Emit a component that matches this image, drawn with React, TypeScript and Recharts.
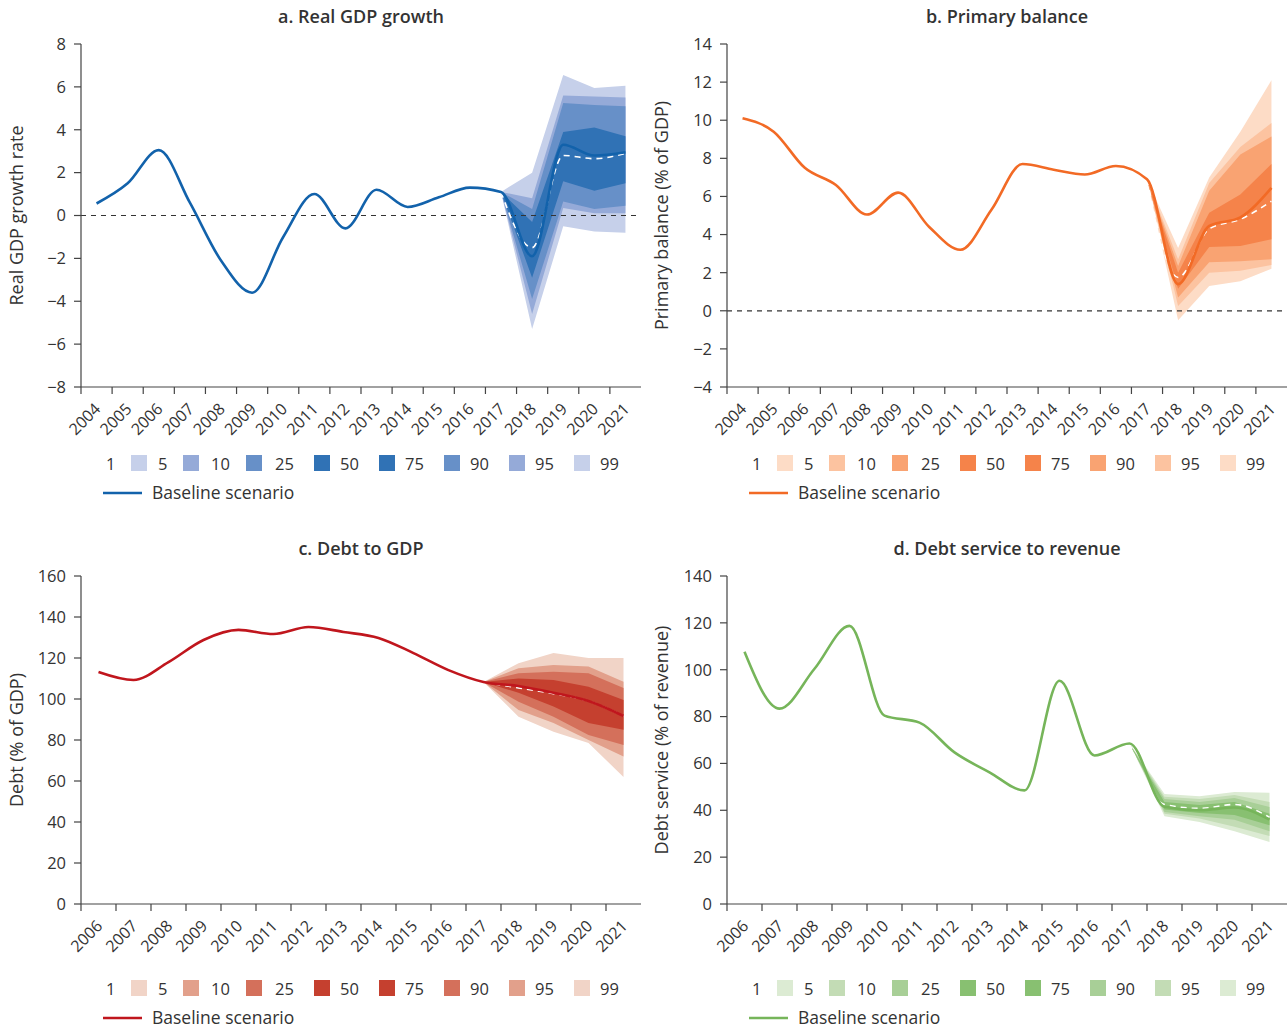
import React from "react";
import {
  ComposedChart,
  Line,
  Area,
  XAxis,
  YAxis,
  ReferenceLine,
} from "recharts";

const FONT = '"Open Sans", "Noto Sans", sans-serif';
const TEXT = "#333";
const AXIS = "#444";

// ---- a. Real GDP growth ----
const gdpYears = [2004, 2005, 2006, 2007, 2008, 2009, 2010, 2011, 2012, 2013, 2014, 2015, 2016, 2017, 2018, 2019, 2020, 2021];
const gdpBaseline = [0.56, 1.5, 3.05, 0.6, -2.1, -3.6, -1.0, 1.0, -0.6, 1.2, 0.4, 0.85, 1.3, 1.1, -1.9, 3.3, 2.8, 2.95];
const gdpFanYears = [2017, 2018, 2019, 2020, 2021];
const gdpP1 = [1.1, -5.3, -0.5, -0.75, -0.8];
const gdpP5 = [1.1, -4.6, 0.35, 0.1, 0.1];
const gdpP10 = [1.1, -3.9, 0.65, 0.3, 0.45];
const gdpP25 = [1.1, -2.9, 1.6, 1.15, 1.5];
const gdpP50 = [1.1, -1.5, 2.8, 2.65, 2.9];
const gdpP75 = [1.1, -0.3, 3.9, 4.1, 3.7];
const gdpP90 = [1.1, 0.3, 5.25, 5.15, 5.1];
const gdpP95 = [1.1, 0.8, 5.6, 5.55, 5.5];
const gdpP99 = [1.1, 2.0, 6.55, 5.95, 6.05];
const gdpTicks = [-8, -6, -4, -2, 0, 2, 4, 6, 8];

// ---- b. Primary balance ----
const pbYears = [2004, 2005, 2006, 2007, 2008, 2009, 2010, 2011, 2012, 2013, 2014, 2015, 2016, 2017, 2018, 2019, 2020, 2021];
const pbBaseline = [10.1, 9.4, 7.5, 6.6, 5.05, 6.2, 4.4, 3.2, 5.3, 7.7, 7.4, 7.15, 7.6, 6.9, 1.4, 4.45, 4.9, 6.45];
const pbFanYears = [2017, 2018, 2019, 2020, 2021];
const pbP1 = [6.9, -0.5, 1.3, 1.55, 2.2];
const pbP5 = [6.9, 0.25, 2.0, 2.1, 2.4];
const pbP10 = [6.9, 0.7, 2.55, 2.6, 2.7];
const pbP25 = [6.9, 1.15, 3.35, 3.4, 3.75];
const pbP50 = [6.9, 1.75, 4.3, 4.8, 5.75];
const pbP75 = [6.9, 2.0, 5.15, 6.1, 7.7];
const pbP90 = [6.9, 2.35, 6.3, 8.2, 9.15];
const pbP95 = [6.9, 2.7, 6.7, 8.6, 9.85];
const pbP99 = [6.9, 3.3, 7.0, 9.4, 12.1];
const pbTicks = [-4, -2, 0, 2, 4, 6, 8, 10, 12, 14];

// ---- c. Debt to GDP ----
const debtYears = [2006, 2007, 2008, 2009, 2010, 2011, 2012, 2013, 2014, 2015, 2016, 2017, 2018, 2019, 2020, 2021];
const debtBaseline = [113.2, 109.3, 118, 128.8, 133.7, 131.7, 135.1, 132.7, 129.8, 122.4, 114.1, 108.3, 106.3, 103, 99, 91.7];
const debtFanYears = [2017, 2018, 2019, 2020, 2021];
const debtP1 = [108.3, 91.4, 84, 78.5, 62];
const debtP5 = [108.3, 94.6, 88.3, 80, 72];
const debtP10 = [108.3, 98.7, 91.4, 82.4, 77.6];
const debtP25 = [108.3, 103, 96.3, 88.3, 85];
const debtP50 = [108.3, 105.4, 102.6, 99, 91.7];
const debtP75 = [108.3, 110, 109.3, 106, 99.5];
const debtP90 = [108.3, 112.6, 113.3, 112.6, 105.4];
const debtP95 = [108.3, 115, 116.6, 115.8, 108.4];
const debtP99 = [108.3, 117.5, 122.4, 120, 120];
const debtTicks = [0, 20, 40, 60, 80, 100, 120, 140, 160];

// ---- d. Debt service to revenue ----
const dsYears = [2006, 2007, 2008, 2009, 2010, 2011, 2012, 2013, 2014, 2015, 2016, 2017, 2018, 2019, 2020, 2021];
const dsBaseline = [107.7, 83.4, 100.4, 118.7, 80.4, 77.4, 64.7, 56.2, 48.5, 95.3, 63.4, 68.5, 41.5, 40, 41.2, 36];
const dsFanYears = [2017, 2018, 2019, 2020, 2021];
const dsP1 = [68.5, 37.5, 35, 31, 26.5];
const dsP5 = [68.5, 38.5, 36.5, 33, 29];
const dsP10 = [68.5, 39.3, 37.5, 36, 31];
const dsP25 = [68.5, 40.3, 38.8, 38, 33.6];
const dsP50 = [68.5, 42.5, 40.8, 42.5, 37];
const dsP75 = [68.5, 43.5, 42.3, 43.5, 38.5];
const dsP90 = [68.5, 44.8, 43.5, 45.2, 41.4];
const dsP95 = [68.5, 45.8, 44.8, 46.5, 43.5];
const dsP99 = [68.5, 47, 46, 47.8, 47.5];
const dsTicks = [0, 20, 40, 60, 80, 100, 120, 140];

const legendLabels = ["1", "5", "10", "25", "50", "75", "90", "95", "99"];

type Palette = { line: string; c1: string; c2: string; c3: string; c4: string };
const blue: Palette = { line: "#1262ab", c1: "#c6d0ea", c2: "#95aad8", c3: "#6790c8", c4: "#3072b5" };
const orange: Palette = { line: "#f26a25", c1: "#fddcc6", c2: "#fcc3a0", c3: "#f9a372", c4: "#f5834a" };
const red: Palette = { line: "#c0161d", c1: "#f1d4c7", c2: "#e2a08b", c3: "#d4705b", c4: "#c5402f" };
const green: Palette = { line: "#76b55a", c1: "#dcebd3", c2: "#c3dcb5", c3: "#a8cf97", c4: "#88c071" };

function buildRows(
  years: number[],
  baseline: number[],
  fanYears: number[],
  p: number[][]
) {
  return years.map((year, i) => {
    const j = fanYears.indexOf(year);
    const row: any = { year, base: baseline[i] };
    if (j >= 0) {
      row.r1 = [p[0][j], p[8][j]];
      row.r2 = [p[1][j], p[7][j]];
      row.r3 = [p[2][j], p[6][j]];
      row.r4 = [p[3][j], p[5][j]];
      row.med = p[4][j];
    }
    return row;
  });
}

const minus = (v: number) => (v < 0 ? "\u2212" + Math.abs(v) : String(v));

function YearTick(props: any) {
  const { x, y, payload, step } = props;
  const ax = x + 5;
  const ay = y + 23;
  return (
    <g>
      <line x1={x - step / 2} x2={x - step / 2} y1={y} y2={y + 7} stroke={AXIS} strokeWidth={1.2} />
      <text
        x={ax}
        y={ay}
        transform={`rotate(-45 ${ax} ${ay})`}
        textAnchor="end"
        fill={TEXT}
        fontSize={16}
        fontFamily={FONT}
      >
        {payload.value}
      </text>
    </g>
  );
}

interface PanelProps {
  left: number;
  top: number;
  width: number;
  plotHeight: number;
  rightMargin: number;
  legendGap: number;
  title: string;
  yLabel: string;
  labelOffset: number;
  rows: any[];
  years: number[];
  ticks: number[];
  palette: Palette;
  zeroLine: boolean;
}

function Panel(p: PanelProps) {
  const plotW = p.width - 81 - p.rightMargin;
  const step = plotW / p.years.length;
  const height = 44 + p.plotHeight + 60;
  const first = p.years[0];
  const last = p.years[p.years.length - 1];
  const legendTop = p.top + 44 + p.plotHeight + p.legendGap;
  const textX = [106, 158, 211, 275, 340, 405, 470, 535, 600];
  const squareX = [131, 183, 246, 314, 379, 444, 509, 574];
  const squareCol = [p.palette.c1, p.palette.c2, p.palette.c3, p.palette.c4, p.palette.c4, p.palette.c3, p.palette.c2, p.palette.c1];
  return (
    <>
      <div
        style={{
          position: "absolute",
          left: p.left + 81,
          top: p.top + 4,
          width: plotW,
          textAlign: "center",
          fontFamily: FONT,
          fontWeight: 600,
          fontSize: 18,
          color: TEXT,
          lineHeight: "24px",
        }}
      >
        {p.title}
      </div>
      <div style={{ position: "absolute", left: p.left, top: p.top }}>
        <ComposedChart
          width={p.width}
          height={height}
          data={p.rows}
          margin={{ top: 44, right: p.rightMargin, bottom: 0, left: 0 }}
        >
          <XAxis
            dataKey="year"
            type="number"
            domain={[first - 0.5, last + 0.5]}
            ticks={p.years}
            interval={0}
            height={60}
            tickLine={false}
            tickSize={0}
            tickMargin={0}
            axisLine={{ stroke: AXIS, strokeWidth: 1.2 }}
            tick={<YearTick step={step} />}
          />
          <YAxis
            width={81}
            domain={[p.ticks[0], p.ticks[p.ticks.length - 1]]}
            ticks={p.ticks}
            interval={0}
            tickFormatter={minus}
            tickSize={7}
            tickMargin={8}
            axisLine={{ stroke: AXIS, strokeWidth: 1.2 }}
            tickLine={{ stroke: AXIS, strokeWidth: 1.2 }}
            tick={{ fill: TEXT, fontSize: 16.5, fontFamily: FONT }}
            label={{
              value: p.yLabel,
              angle: -90,
              position: "insideLeft",
              offset: p.labelOffset,
              style: { textAnchor: "middle", fill: TEXT, fontSize: 18, fontFamily: FONT },
            }}
          />
          {p.zeroLine && (
            <ReferenceLine y={0} stroke="#333" strokeWidth={1.2} strokeDasharray="5 5" />
          )}
          <Area dataKey="r1" type="linear" stroke="none" fill={p.palette.c1} fillOpacity={1} isAnimationActive={false} />
          <Area dataKey="r2" type="linear" stroke="none" fill={p.palette.c2} fillOpacity={1} isAnimationActive={false} />
          <Area dataKey="r3" type="linear" stroke="none" fill={p.palette.c3} fillOpacity={1} isAnimationActive={false} />
          <Area dataKey="r4" type="linear" stroke="none" fill={p.palette.c4} fillOpacity={1} isAnimationActive={false} />
          <Line dataKey="med" type="monotone" stroke="#fff" strokeWidth={1.6} strokeDasharray="6 5" dot={false} isAnimationActive={false} />
          <Line dataKey="base" type="monotone" stroke={p.palette.line} strokeWidth={2.6} dot={false} isAnimationActive={false} />
        </ComposedChart>
      </div>
      <svg
        width={640}
        height={70}
        style={{ position: "absolute", left: p.left, top: legendTop, overflow: "visible" }}
        fontFamily={FONT}
      >
        {legendLabels.map((l, i) => (
          <text key={l} x={textX[i]} y={23} fill={TEXT} fontSize={16.5}>
            {l}
          </text>
        ))}
        {squareX.map((sx, i) => (
          <rect key={i} x={sx} y={8} width={16} height={16} fill={squareCol[i]} />
        ))}
        <line x1={103} x2={142} y1={46} y2={46} stroke={p.palette.line} strokeWidth={2.6} />
        <text x={152} y={52} fill={TEXT} fontSize={17.5}>
          Baseline scenario
        </text>
      </svg>
    </>
  );
}

export default function App() {
  const gdpRows = buildRows(gdpYears, gdpBaseline, gdpFanYears, [gdpP1, gdpP5, gdpP10, gdpP25, gdpP50, gdpP75, gdpP90, gdpP95, gdpP99]);
  const pbRows = buildRows(pbYears, pbBaseline, pbFanYears, [pbP1, pbP5, pbP10, pbP25, pbP50, pbP75, pbP90, pbP95, pbP99]);
  const debtRows = buildRows(debtYears, debtBaseline, debtFanYears, [debtP1, debtP5, debtP10, debtP25, debtP50, debtP75, debtP90, debtP95, debtP99]);
  const dsRows = buildRows(dsYears, dsBaseline, dsFanYears, [dsP1, dsP5, dsP10, dsP25, dsP50, dsP75, dsP90, dsP95, dsP99]);

  return (
    <div style={{ position: "absolute", left: 0, top: 0, width: 1287, height: 1030, background: "#fff", overflow: "hidden" }}>
      <Panel left={0} top={0} width={646} plotHeight={343} rightMargin={5} legendGap={60} title="a. Real GDP growth" yLabel="Real GDP growth rate" labelOffset={17} rows={gdpRows} years={gdpYears} ticks={gdpTicks} palette={blue} zeroLine />
      <Panel left={646} top={0} width={641} plotHeight={343} rightMargin={0} legendGap={60} title="b. Primary balance" yLabel="Primary balance (% of GDP)" labelOffset={16} rows={pbRows} years={pbYears} ticks={pbTicks} palette={orange} zeroLine />
      <Panel left={0} top={532} width={646} plotHeight={328} rightMargin={5} legendGap={68} title="c. Debt to GDP" yLabel="Debt (% of GDP)" labelOffset={17} rows={debtRows} years={debtYears} ticks={debtTicks} palette={red} zeroLine={false} />
      <Panel left={646} top={532} width={641} plotHeight={328} rightMargin={0} legendGap={68} title="d. Debt service to revenue" yLabel="Debt service (% of revenue)" labelOffset={16} rows={dsRows} years={dsYears} ticks={dsTicks} palette={green} zeroLine={false} />
    </div>
  );
}
